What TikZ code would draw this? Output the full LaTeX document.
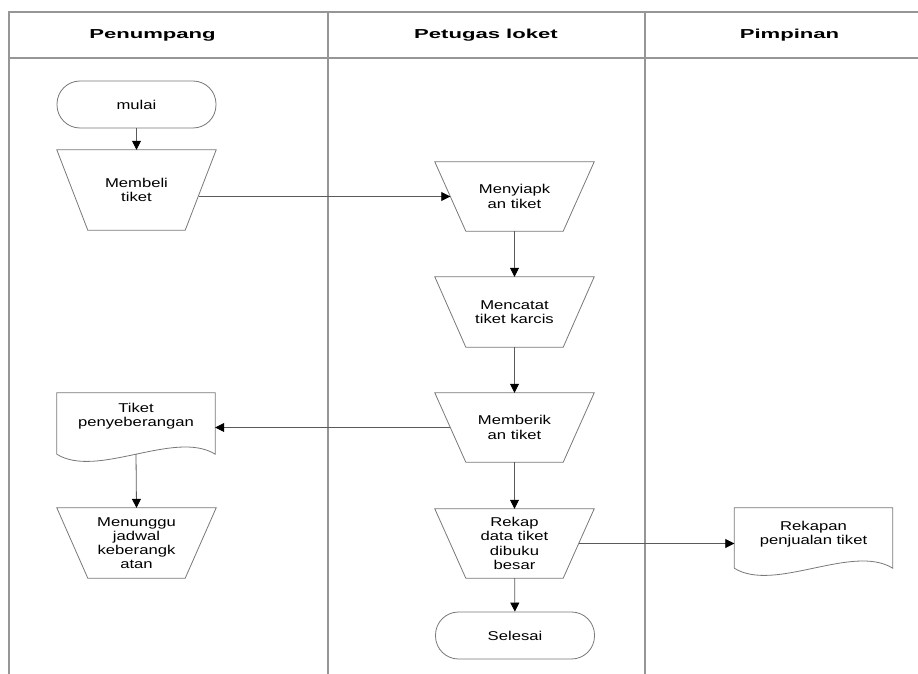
\documentclass[tikz,border=0pt]{standalone}
\usepackage{fontspec}
\setmainfont{Liberation Sans}
\newfontfamily\bodyfont[FakeStretch=1.3]{Liberation Sans}
\newfontfamily\headfont[FakeStretch=1.7]{Liberation Sans}
\usetikzlibrary{arrows.meta,calc}
\definecolor{framegray}{RGB}{150,150,150}
\definecolor{shapegray}{RGB}{120,120,120}
\definecolor{linegray}{RGB}{90,90,90}
\tikzset{
  lanefont/.style={font=\headfont\bfseries\fontsize{13}{15}\selectfont},
  txt/.style={font=\bodyfont\fontsize{12.8}{14.2}\selectfont, align=center, inner sep=0pt},
  frame/.style={draw=framegray, line width=1.2pt},
  outline/.style={draw=shapegray, line width=0.8pt},
  terminal/.style={txt, outline, rounded corners=23pt, minimum width=159pt, minimum height=47pt},
  trapbox/.style={txt, minimum width=159pt},
  docbox/.style={minimum width=158pt, minimum height=61pt, inner sep=0pt},
  arr/.style={draw=linegray, line width=0.8pt, -{Triangle[length=9pt,width=9pt,color=black]}},
}
\begin{document}
\begin{tikzpicture}[x=1pt,y=-1pt]
\useasboundingbox (0,0) rectangle (918,674);
% swimlane frame
\draw[frame] (9,674) -- (9,12) -- (918,12);
\draw[frame] (9,58) -- (918,58);
\draw[frame] (328,12) -- (328,674);
\draw[frame] (645,12) -- (645,674);
\node[lanefont] (h1) at (152.5,35) {Penumpang};
\node[lanefont] (h2) at (486,35) {Petugas loket};
\node[lanefont] (h3) at (789.5,35) {Pimpinan};

% terminals
\node[terminal] (mulai) at (136.5,104.5) {mulai};
\node[terminal] (selesai) at (515,635.5) {Selesai};

% manual operations (trapezoids)
\node[trapbox, minimum height=80pt] (membeli) at (136.5,190) {Membeli\\tiket};
\node[trapbox, minimum height=69pt] (menyiapk) at (514.5,196.5) {Menyiapk\\an tiket};
\node[trapbox, minimum height=70pt] (mencatat) at (514.5,312) {Mencatat\\tiket karcis};
\node[trapbox, minimum height=69pt] (memberik) at (514.5,427.5) {Memberik\\an tiket};
\node[trapbox, minimum height=69pt] (rekap) at (514.5,543.5) {Rekap\\data tiket\\dibuku\\besar};
\node[trapbox, minimum height=70pt] (menunggu) at (136.5,543) {Menunggu\\jadwal\\keberangk\\atan};
\foreach \n in {membeli,menyiapk,mencatat,memberik,rekap,menunggu}
  \draw[outline] (\n.north west) -- (\n.north east) -- ([xshift=-31pt]\n.south east)
     -- ([xshift=31pt]\n.south west) -- cycle;

% documents
\node[docbox] (tiket) at (136,423.5) {};
\node[docbox, minimum height=60pt] (rekapan) at (813.5,538) {};
\foreach \n in {tiket,rekapan}
  \draw[outline] (\n.south west) -- (\n.north west) -- (\n.north east) -- (\n.south east)
     .. controls ([xshift=-40pt,yshift=25pt]\n.south east) and ([xshift=40pt,yshift=-25pt]\n.south west)
     .. (\n.south west);
\node[txt] (tikettxt) at ([yshift=7pt]tiket.center) {Tiket\\penyeberangan};
\node[txt] (rekapantxt) at ([yshift=4pt]rekapan.center) {Rekapan\\penjualan tiket};

% connectors
\draw[arr] (mulai) -- (membeli);
\draw[arr] ($(membeli.east |- menyiapk.west)+(-17,0)$) -- ($(menyiapk.west)+(15.5,0)$);
\draw[arr] (menyiapk) -- (mencatat);
\draw[arr] (mencatat) -- (memberik);
\draw[arr] ($(memberik.west)+(15.5,0)$) -- (memberik.west -| tiket.east);
\draw[arr] (tiket.south) -- (menunggu.north);
\draw[arr] (memberik) -- (rekap);
\draw[arr] (rekap) -- (selesai);
\draw[arr] ($(rekap.east)+(-15.5,0)$) -- (rekap.east -| rekapan.west);
\end{tikzpicture}
\end{document}
